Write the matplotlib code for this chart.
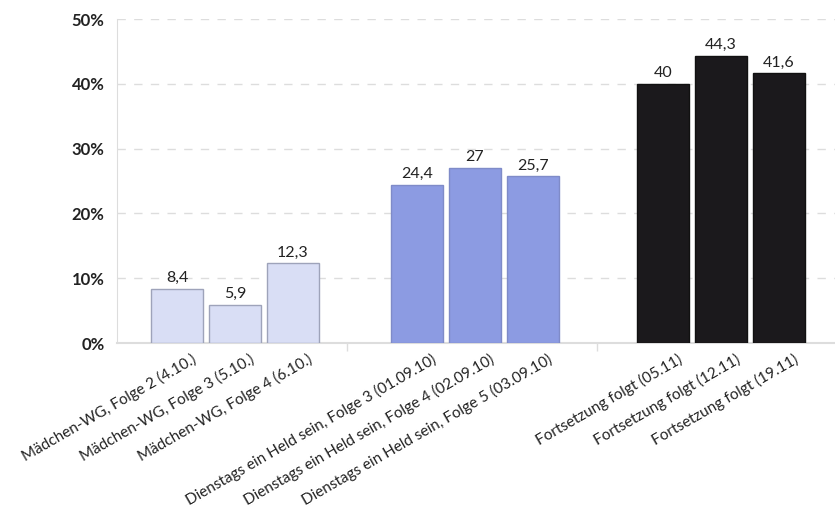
import matplotlib.pyplot as plt
from matplotlib.ticker import FuncFormatter

plt.rcParams['font.family'] = ['Lato', 'DejaVu Sans']

# Daten
labels = [
    "Mädchen-WG, Folge 2 (4.10.)",
    "Mädchen-WG, Folge 3 (5.10.)",
    "Mädchen-WG, Folge 4 (6.10.)",
    "Dienstags ein Held sein, Folge 3 (01.09.10)",
    "Dienstags ein Held sein, Folge 4 (02.09.10)",
    "Dienstags ein Held sein, Folge 5 (03.09.10)",
    "Fortsetzung folgt (05.11)",
    "Fortsetzung folgt (12.11)",
    "Fortsetzung folgt (19.11)",
]
values = [8.4, 5.9, 12.3, 24.4, 27, 25.7, 40, 44.3, 41.6]
value_labels = ["8,4", "5,9", "12,3", "24,4", "27", "25,7", "40", "44,3", "41,6"]
y_ticks = [0, 10, 20, 30, 40, 50]

# Layout (Pixel-Einheiten der Achse)
group_centers = [118, 358, 604]
offset = 58
bar_width = 52
fills = ["#d9def5", "#8c9be2", "#1b191c"]
edges = ["#9ea3ba", "#7f8bc8", "#111111"]

fig = plt.figure(figsize=(8.35, 5.15), dpi=100)
ax = fig.add_axes([117 / 835, 1 - 343 / 515, 718 / 835, 324 / 515])

xs = []
for g, c in enumerate(group_centers):
    for k in (-1, 0, 1):
        xs.append(c + k * offset)

for i, (x, v) in enumerate(zip(xs, values)):
    g = i // 3
    ax.bar(x, v, width=bar_width, color=fills[g], edgecolor=edges[g],
           linewidth=1, zorder=3)
    ax.text(x, v + 0.6, value_labels[i], ha='center', va='bottom',
            fontsize=11.5, color='#222222', zorder=4)

ax.set_xlim(0, 718)
ax.set_ylim(0, 50)
ax.set_yticks(y_ticks)
ax.yaxis.set_major_formatter(FuncFormatter(lambda v, p: f"{int(v)}%"))
ax.tick_params(axis='y', length=0, labelsize=12, labelcolor='#222222', pad=9)
for t in ax.get_yticklabels():
    t.set_fontweight('bold')

ax.set_xticks([230, 480])
ax.set_xticklabels([])
ax.tick_params(axis='x', length=6, color='#dddddd', width=1)

ax.grid(axis='y', linestyle=(0, (6, 6)), color='#dddddd', linewidth=1, zorder=0)
for s in ['top', 'right']:
    ax.spines[s].set_visible(False)
ax.spines['left'].set_color('#dddddd')
ax.spines['bottom'].set_color('#dddddd')
ax.spines['bottom'].set_linewidth(1.5)

for x, lab in zip(xs, labels):
    ax.text(x + 14, -1.3, lab, rotation=30, rotation_mode='anchor',
            ha='right', va='top', fontsize=11, color='#222222')

fig.savefig("out.png", dpi=100)
